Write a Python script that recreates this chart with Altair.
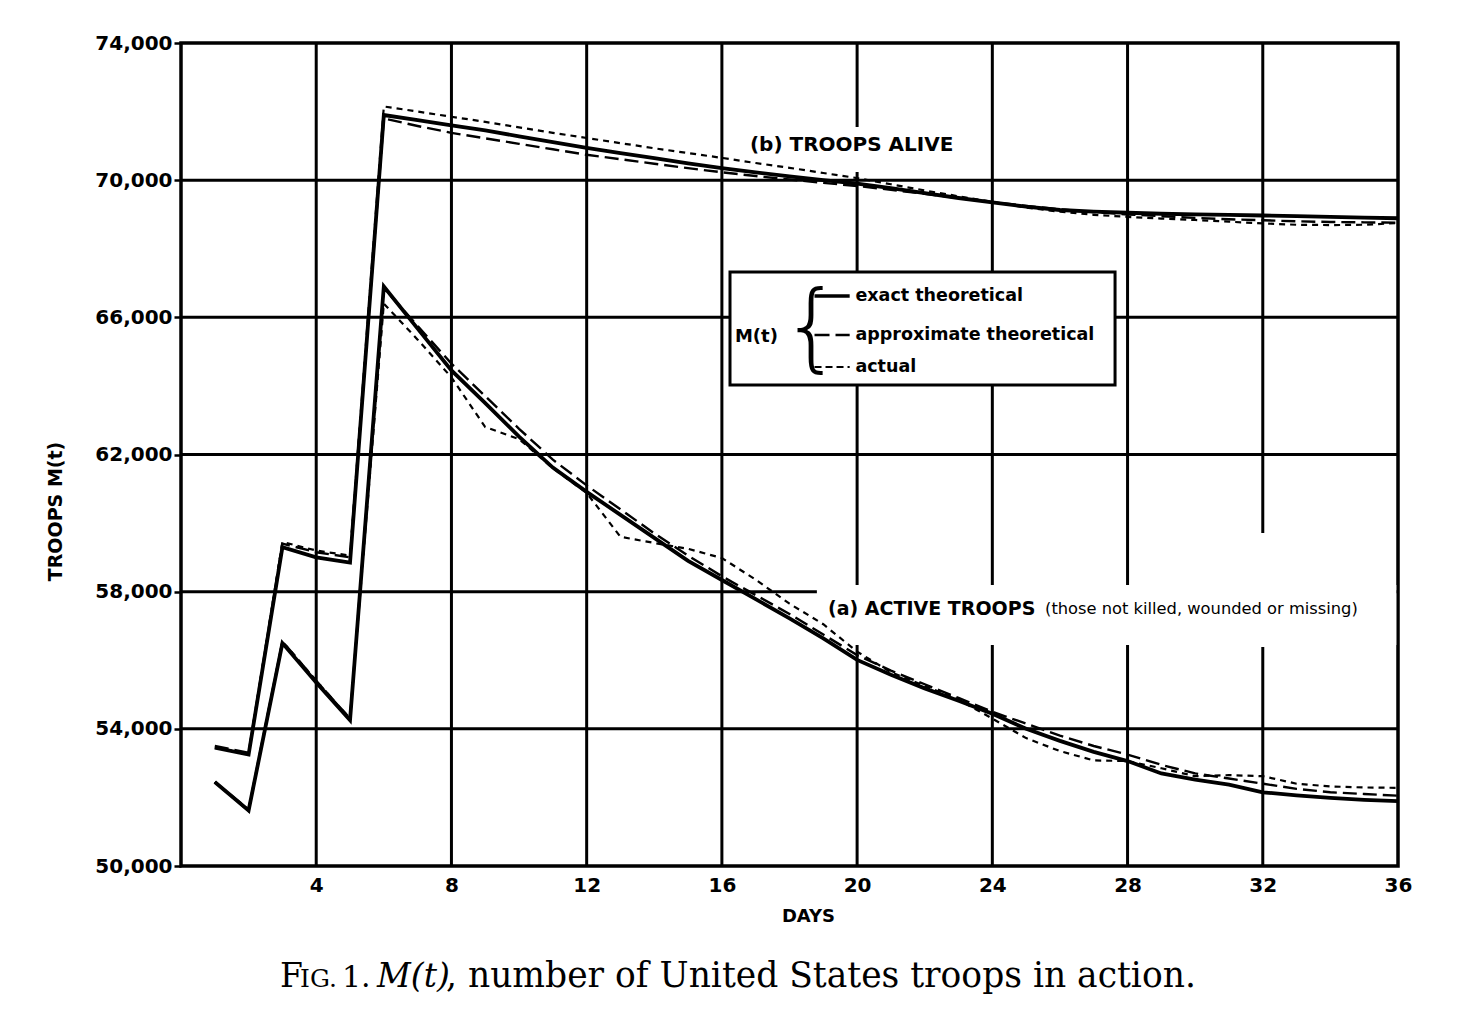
import altair as alt
import pandas as pd

# ---------------- data ----------------
days = list(range(1, 37))

alive_exact = [53450, 53250, 59300, 59000, 58850, 71900, 71750, 71600, 71450, 71280,
               71110, 70940, 70790, 70640, 70490, 70350, 70230, 70110, 70000, 69900,
               69770, 69620, 69480, 69350, 69230, 69130, 69080, 69050, 69020, 69000,
               68990, 68970, 68950, 68930, 68910, 68890]
alive_approx = [53500, 53300, 59400, 59150, 59000, 71800, 71580, 71380, 71220, 71060,
                70900, 70740, 70610, 70480, 70350, 70230, 70120, 70020, 69920, 69830,
                69720, 69600, 69480, 69360, 69250, 69150, 69070, 69000, 68950, 68900,
                68860, 68830, 68800, 68780, 68770, 68760]
alive_actual = [53450, 53280, 59450, 59200, 59050, 72150, 72000, 71850, 71700, 71540,
                71380, 71230, 71080, 70930, 70790, 70650, 70500, 70360, 70210, 70060,
                69880, 69700, 69530, 69370, 69200, 69080, 68990, 68930, 68880, 68840,
                68790, 68740, 68700, 68690, 68700, 68750]

active_exact = [52450, 51620, 56500, 55350, 54250, 66900, 65670, 64450, 63500, 62520,
                61620, 60910, 60240, 59570, 58900, 58340, 57780, 57220, 56640, 56010,
                55580, 55180, 54820, 54440, 54000, 53650, 53330, 53060, 52700, 52520,
                52370, 52150, 52060, 51985, 51930, 51890]
active_approx = [52450, 51650, 56550, 55400, 54300, 66850, 65750, 64650, 63700, 62750,
                 61850, 61100, 60400, 59700, 59050, 58450, 57900, 57350, 56750, 56150,
                 55700, 55300, 54900, 54500, 54150, 53800, 53500, 53250, 52950, 52700,
                 52550, 52400, 52250, 52150, 52100, 52050]
active_actual = [52450, 51600, 56550, 55400, 54300, 66400, 65350, 64250, 62800, 62450,
                 61600, 60880, 59600, 59420, 59250, 58980, 58350, 57650, 57050, 56250,
                 55650, 55250, 54850, 54300, 53730, 53350, 53080, 53060, 52850, 52620,
                 52650, 52620, 52400, 52320, 52290, 52280]

x_ticks = [4, 8, 12, 16, 20, 24, 28, 32, 36]
y_ticks = [50000, 54000, 58000, 62000, 66000, 70000, 74000]

legend_labels = ["exact theoretical", "approximate theoretical", "actual"]

# ---------------- helpers ----------------
FONT = "DejaVu Sans"
SERIF = "DejaVu Serif"

def frame(values, curve):
    return pd.DataFrame({"day": days, "troops": values, "curve": curve})

exact_df = pd.concat([frame(alive_exact, "alive"), frame(active_exact, "active")])
approx_df = pd.concat([frame(alive_approx, "alive"), frame(active_approx, "active")])
actual_df = pd.concat([frame(alive_actual, "alive"), frame(active_actual, "active")])

xs = alt.Scale(domain=[0, 36], nice=False, zero=False)
ys = alt.Scale(domain=[50000, 74000], nice=False, zero=False)

Y_TITLE = "TROOPS   M(t)"

x_axis = alt.Axis(values=x_ticks, ticks=False, domain=False, grid=False,
                  labelFont=FONT, labelFontSize=20, labelFontWeight="bold",
                  labelColor="black", labelPadding=9, labelFlush=False,
                  title="DAYS", titleFont=FONT, titleFontSize=18,
                  titleFontWeight="bold", titleColor="black",
                  titleX=627, titleY=50, titleBaseline="middle")
y_axis = alt.Axis(values=y_ticks, format=",d", tickSize=7, tickWidth=2.5,
                  tickColor="black", domain=False, grid=False, labelOverlap=False,
                  labelFont=FONT, labelFontSize=20, labelFontWeight="bold",
                  labelColor="black", labelPadding=2, labelFlush=False,
                  title=Y_TITLE, titleFont=FONT, titleFontSize=19,
                  titleFontWeight="bold", titleColor="black", titleAngle=270,
                  titleX=-126, titleY=468, titleAlign="center",
                  titleBaseline="middle")

def X(f):
    return alt.X(f, scale=xs, axis=x_axis, title="DAYS")

def Y(f):
    return alt.Y(f, scale=ys, axis=y_axis, title=Y_TITLE)

# ---------------- grid (with the breaks of the original) ----------------
vgrid = pd.DataFrame({"gx": x_ticks[:-1], "y1": 50000, "y2": 74000})
hgrid = pd.DataFrame({"gy": y_ticks[1:-1], "x1": 0, "x2": 36})

vrules = alt.Chart(vgrid).mark_rule(color="black", strokeWidth=3).encode(
    x=X("gx:Q"), y=Y("y1:Q"), y2="y2:Q")
hrules = alt.Chart(hgrid).mark_rule(color="black", strokeWidth=3).encode(
    y=Y("gy:Q"), x=X("x1:Q"), x2="x2:Q")

masks_df = pd.DataFrame({
    "x1": [16.68, 18.81, 31.80],
    "x2": [22.99, 35.95, 32.20],
    "y1": [70238, 56445, 56387],
    "y2": [71551, 58195, 59711],
})
masks = alt.Chart(masks_df).mark_rect(fill="white").encode(
    x=X("x1:Q"), x2="x2:Q", y=Y("y1:Q"), y2="y2:Q")

# ---------------- legend box ----------------
box_df = pd.DataFrame({"x1": [16.24], "x2": [27.63], "y1": [64027], "y2": [67322]})
box = alt.Chart(box_df).mark_rect(fill="white", stroke="black", strokeWidth=3).encode(
    x=X("x1:Q"), x2="x2:Q", y=Y("y1:Q"), y2="y2:Q")

# ---------------- data lines ----------------
line_exact = alt.Chart(exact_df).mark_line(color="black", strokeWidth=3.8).encode(
    x=X("day:Q"), y=Y("troops:Q"), detail="curve:N")
line_approx = alt.Chart(approx_df).mark_line(
    color="black", strokeWidth=2.4, strokeDash=[14, 6]).encode(
    x=X("day:Q"), y=Y("troops:Q"), detail="curve:N")
line_actual = alt.Chart(actual_df).mark_line(
    color="black", strokeWidth=2.2, strokeDash=[6, 5]).encode(
    x=X("day:Q"), y=Y("troops:Q"), detail="curve:N")

# ---------------- legend contents ----------------
rows_y = [66622, 65485, 64552]
leg_df = pd.DataFrame({"label": legend_labels, "ly": rows_y,
                       "lx1": 18.74, "lx2": 19.78, "tx": 19.95})
leg_exact = alt.Chart(leg_df.iloc[[0]]).mark_rule(color="black", strokeWidth=3.5).encode(
    x=X("lx1:Q"), x2="lx2:Q", y=Y("ly:Q"))
leg_approx = alt.Chart(leg_df.iloc[[1]]).mark_rule(
    color="black", strokeWidth=2.4, strokeDash=[15, 6]).encode(
    x=X("lx1:Q"), x2="lx2:Q", y=Y("ly:Q"))
leg_actual = alt.Chart(leg_df.iloc[[2]]).mark_rule(
    color="black", strokeWidth=2.2, strokeDash=[7, 4]).encode(
    x=X("lx1:Q"), x2="lx2:Q", y=Y("ly:Q"))
leg_text = alt.Chart(leg_df).mark_text(
    font=FONT, fontSize=17.5, fontWeight="bold", align="left",
    baseline="middle", color="black").encode(
    x=X("tx:Q"), y=Y("ly:Q"), text="label:N")

mt_df = pd.DataFrame({"t": ["M(t)"], "x": [17.02], "y": [65427]})
mt_text = alt.Chart(mt_df).mark_text(
    font=FONT, fontSize=18, fontWeight="bold", align="center",
    baseline="middle", color="black").encode(x=X("x:Q"), y=Y("y:Q"), text="t:N")
brace_df = pd.DataFrame({"t": ["{"], "x": [18.66], "y": [65631]})
brace = alt.Chart(brace_df).mark_text(
    font="DejaVu Sans", fontWeight=200, fontSize=96, align="center",
    baseline="middle", color="black").encode(x=X("x:Q"), y=Y("y:Q"), text="t:N")

# ---------------- curve labels ----------------
lab_df = pd.DataFrame({"t": ["(b) TROOPS  ALIVE", "(a) ACTIVE   TROOPS"],
                       "x": [16.83, 19.14], "y": [71026, 57494],
                       "s": [20, 19]})
labels = alt.Chart(lab_df).mark_text(
    font=FONT, fontWeight="bold", align="left", baseline="middle",
    color="black").encode(x=X("x:Q"), y=Y("y:Q"), text="t:N",
                          size=alt.Size("s:Q", scale=None, legend=None))
sub_df = pd.DataFrame({"t": ["(those not killed, wounded or missing)"],
                       "x": [25.56], "y": [57494]})
sublabel = alt.Chart(sub_df).mark_text(
    font=FONT, fontSize=16.3, align="left", baseline="middle",
    color="black").encode(x=X("x:Q"), y=Y("y:Q"), text="t:N")

# ---------------- caption ----------------
def cap(text, px, size, style="normal"):
    d = pd.DataFrame({"t": [text]})
    return alt.Chart(d).mark_text(
        font=SERIF, fontSize=size, fontStyle=style, align="left",
        baseline="alphabetic", color="black").encode(
        x=alt.value(px - 181), y=alt.value(987 - 43), text="t:N")

caption = [
    cap("F", 280, 33),
    cap("IG.", 300, 25),
    cap("1.", 342, 30),
    cap("M(t)", 377, 33, "italic"),
    cap(", number of United States troops in action.", 446, 34.5),
]

chart = alt.layer(
    hrules, vrules, masks, box,
    line_exact, line_approx, line_actual,
    leg_exact, leg_approx, leg_actual, leg_text, mt_text, brace,
    labels, sublabel, *caption,
).properties(
    width=1217, height=823,
    autosize=alt.AutoSizeParams(type="none"),
    padding={"left": 173, "top": 35, "right": 45, "bottom": 140},
    background="white",
).configure_view(stroke="black", strokeWidth=3.5)

chart.save("out.html", embed_options={"renderer": "svg", "actions": False})
